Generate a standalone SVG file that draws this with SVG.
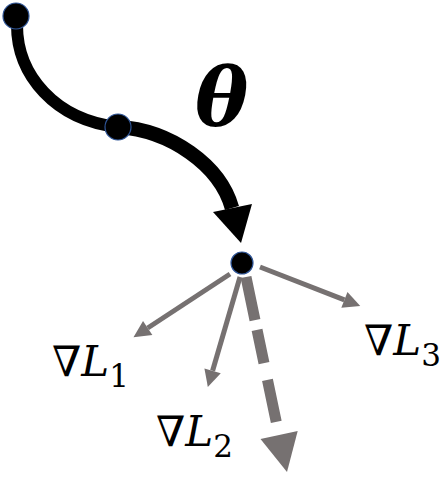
<svg xmlns="http://www.w3.org/2000/svg" width="446" height="477" viewBox="0 0 446 477">
<defs>
<style>
.node{fill:#000;stroke:#2f5597;stroke-width:1.2}
.path{fill:none;stroke:#000;stroke-linecap:butt}
.grad{fill:none;stroke:#767171;stroke-width:5}
.lbl{font-family:"DejaVu Serif","Liberation Serif",serif;font-size:42px;fill:#000}
.sub{font-size:31px;font-style:normal}
</style>
<marker id="ga" viewBox="0 0 10 10" refX="0" refY="5" markerWidth="4" markerHeight="3.4" orient="auto" markerUnits="strokeWidth">
<path d="M0,0 L10,5 L0,10 z" fill="#767171"/>
</marker>
</defs>
<rect width="446" height="477" fill="#fff"/>
<g id="connectors">
<path class="path" stroke-width="12" d="M17,25 C17,75 55,120 118,127"/>
<path class="path" stroke-width="14.5" d="M118,127 C170,130 220,165 232,208"/>
<polygon points="241,243 213,212 252,204" fill="#000"/>
<line class="grad" x1="230" y1="274" x2="147.7" y2="328" marker-end="url(#ga)"/>
<line class="grad" x1="240" y1="277" x2="212.6" y2="370.8" marker-end="url(#ga)"/>
<line class="grad" x1="260" y1="267" x2="344.4" y2="299.8" marker-end="url(#ga)"/>
<line x1="246" y1="277" x2="279" y2="435" stroke="#767171" stroke-width="11" stroke-dasharray="44 10 34 17 43 20"/>
<polygon points="287,472 260.5,438.9 297.7,431.1" fill="#767171"/>
</g>
<g id="node1"><circle class="node" cx="16" cy="16" r="13"/></g>
<g id="node2"><circle class="node" cx="118" cy="127" r="13"/></g>
<g id="node3"><circle class="node" cx="242" cy="263" r="11"/></g>
<g id="theta"><text x="195" y="126" font-family="'DejaVu Serif','Liberation Serif',serif" font-size="80" font-weight="bold" font-style="italic">θ</text></g>
<g id="gradL1"><text class="lbl" x="52" y="376">∇<tspan font-style="italic">L</tspan><tspan class="sub" dy="11">1</tspan></text></g>
<g id="gradL2"><text class="lbl" x="156" y="446">∇<tspan font-style="italic">L</tspan><tspan class="sub" dy="11">2</tspan></text></g>
<g id="gradL3"><text class="lbl" x="364" y="355">∇<tspan font-style="italic">L</tspan><tspan class="sub" dy="11">3</tspan></text></g>
</svg>
